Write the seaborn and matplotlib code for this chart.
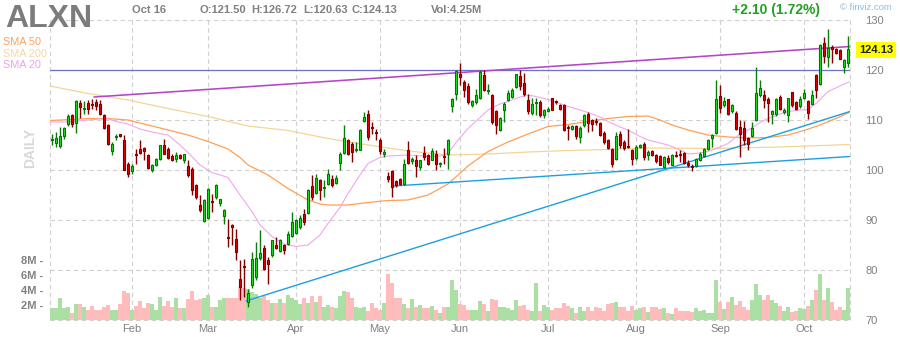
import numpy as np
import pandas as pd
import matplotlib
matplotlib.use("Agg")
import matplotlib.pyplot as plt
import seaborn as sns

# ---------------- data ----------------
ticker = "ALXN"
header_date = "Oct 16"
header_ohlc = ["O:121.50", "H:126.72", "L:120.63", "C:124.13"]
header_vol = "Vol:4.25M"
header_change = "+2.10 (1.72%)"
last_price_label = "124.13"
last_price = 124.13

opens = [106.1, 105.5, 104.9, 106.9, 109.3, 111.1, 109.5, 113.4, 112.3, 113.4,
         113.2, 113.7, 113.2, 111.0, 109.0, 103.9, 106.7, 107.2, 106.0, 101.3,
         99.9, 103.1, 104.3, 104.5, 103.0, 100.0, 101.1, 102.3, 105.1, 104.3,
         102.8, 102.3, 102.9, 102.1, 100.8, 100.3, 97.0, 93.0, 89.9, 90.5,
         93.8, 94.7, 93.5, 90.9, 86.6, 89.0, 86.3, 78.3, 80.8, 73.7,
         77.0, 78.7, 82.5, 84.5, 82.0, 83.0, 85.1, 83.9, 84.9, 85.3,
         86.9, 87.5, 88.7, 91.2, 91.5, 96.8, 95.5, 98.0, 96.4, 97.3,
         98.3, 97.5, 101.5, 103.5, 106.0, 105.3, 104.0, 104.1, 109.9, 111.3,
         108.6, 107.6, 106.1, 103.2, 98.9, 99.9, 97.8, 98.2, 97.3, 103.9,
         101.9, 101.9, 100.7, 103.5, 103.1, 102.1, 103.2, 101.2, 102.9, 103.2,
         112.8, 115.3, 119.2, 117.5, 116.8, 113.1, 113.7, 114.5, 119.0, 115.9,
         114.9, 111.7, 108.1, 112.0, 114.1, 114.7, 116.7, 118.8, 117.5, 114.0,
         111.5, 113.4, 113.6, 111.0, 111.9, 114.3, 113.8, 112.9, 112.9, 108.6,
         108.3, 108.7, 106.7, 109.0, 111.2, 109.9, 109.8, 109.5, 107.5, 106.1,
         104.3, 102.3, 107.2, 105.7, 104.9, 103.9, 102.5, 104.7, 105.3, 103.0,
         103.7, 102.9, 102.7, 100.7, 102.5, 101.1, 103.1, 103.2, 103.5, 101.5,
         100.8, 100.9, 102.0, 102.9, 104.3, 106.5, 107.5, 114.8, 113.0, 114.2,
         111.8, 111.5, 108.5, 108.5, 106.5, 106.9, 110.0, 115.0, 115.0, 114.3,
         111.3, 111.3, 114.5, 111.7, 111.1, 115.5, 113.5, 112.9, 114.5, 113.7,
         113.3, 119.1, 117.3, 125.5, 122.7, 124.7, 124.2, 124.0, 120.7, 121.5]
highs = [107.3, 107.7, 108.7, 108.7, 111.3, 111.3, 114.0, 114.0, 113.9, 114.0,
         114.3, 114.3, 114.0, 111.3, 109.3, 105.7, 107.3, 107.3, 107.0, 101.7,
         101.3, 104.3, 106.0, 104.7, 103.2, 101.3, 102.5, 105.0, 106.3, 104.7,
         103.2, 103.7, 103.2, 103.3, 102.1, 100.7, 97.2, 95.0, 94.3, 96.5,
         95.3, 97.2, 94.3, 92.3, 90.3, 89.3, 88.3, 82.0, 82.3, 76.3,
         83.7, 85.7, 88.0, 85.0, 82.7, 86.0, 86.7, 86.3, 85.3, 87.9,
         91.7, 90.3, 91.0, 92.3, 96.3, 99.0, 99.3, 98.3, 98.0, 100.3,
         99.0, 99.0, 103.7, 109.0, 106.3, 105.7, 105.7, 108.3, 111.7, 112.0,
         109.7, 108.3, 106.5, 104.3, 99.7, 100.0, 98.0, 98.5, 102.3, 105.8,
         102.7, 103.0, 102.1, 104.8, 103.3, 104.5, 104.1, 101.7, 104.5, 106.3,
         114.5, 120.0, 121.5, 118.0, 117.5, 114.0, 116.3, 120.1, 120.1, 117.2,
         115.3, 112.0, 110.7, 113.7, 116.1, 116.5, 119.3, 120.0, 119.5, 115.3,
         114.5, 114.5, 114.0, 112.3, 112.7, 114.5, 114.0, 113.3, 113.3, 109.0,
         109.0, 109.0, 108.8, 111.3, 111.7, 110.3, 110.5, 109.7, 107.9, 106.3,
         104.5, 107.7, 107.9, 106.0, 108.3, 104.3, 105.0, 105.3, 105.7, 104.0,
         104.0, 103.3, 103.0, 102.9, 103.1, 103.3, 103.8, 104.0, 103.7, 102.0,
         101.3, 102.5, 103.7, 104.5, 106.3, 107.3, 118.0, 117.1, 114.7, 114.3,
         113.3, 111.8, 110.0, 109.8, 106.7, 109.7, 120.7, 118.0, 116.0, 114.7,
         112.0, 114.5, 115.0, 112.5, 114.5, 115.7, 113.8, 114.9, 116.2, 114.0,
         116.0, 119.3, 125.3, 126.7, 128.3, 125.0, 124.5, 124.3, 122.3, 126.72]
lows = [105.0, 104.7, 104.5, 106.3, 108.8, 108.7, 107.5, 110.5, 111.3, 111.3,
        112.3, 112.0, 111.0, 108.3, 105.0, 103.0, 106.0, 106.7, 100.0, 98.7,
        99.2, 101.3, 103.3, 102.0, 100.3, 99.7, 100.9, 102.0, 103.2, 102.3,
        101.9, 101.7, 102.3, 101.5, 98.7, 95.0, 94.3, 91.7, 89.7, 90.3,
        91.7, 94.3, 92.8, 89.3, 84.7, 85.0, 82.0, 74.0, 74.7, 72.7,
        76.5, 78.0, 82.0, 80.0, 77.3, 82.7, 84.3, 83.7, 83.2, 85.0,
        86.7, 87.2, 88.3, 89.0, 91.3, 94.0, 95.3, 94.0, 94.7, 97.0,
        96.7, 97.3, 100.0, 103.3, 103.0, 101.7, 103.7, 104.0, 109.7, 106.0,
        107.3, 106.0, 103.3, 102.7, 97.7, 94.7, 96.7, 97.0, 97.0, 101.3,
        101.3, 98.7, 100.0, 102.0, 101.0, 102.0, 100.0, 100.7, 101.3, 100.3,
        111.7, 114.0, 117.0, 114.7, 113.3, 112.7, 113.3, 114.3, 115.9, 115.3,
        109.3, 107.3, 107.9, 109.7, 113.9, 114.5, 116.5, 116.0, 114.8, 111.3,
        111.0, 111.0, 110.7, 110.5, 111.7, 112.0, 113.3, 112.0, 107.9, 106.0,
        108.0, 106.3, 105.5, 108.7, 107.7, 107.9, 109.0, 106.8, 105.3, 104.3,
        100.7, 102.0, 104.5, 104.1, 104.5, 101.0, 102.0, 104.5, 102.1, 102.0,
        102.9, 101.5, 101.0, 100.5, 101.3, 101.0, 102.7, 101.7, 101.3, 100.7,
        99.8, 100.7, 101.8, 102.7, 104.0, 104.7, 107.3, 111.5, 112.7, 111.1,
        111.5, 108.0, 102.7, 105.0, 104.0, 106.7, 109.8, 114.7, 112.5, 109.7,
        109.3, 110.9, 112.0, 111.3, 109.7, 112.7, 112.0, 112.5, 114.2, 110.2,
        113.0, 114.5, 117.1, 121.5, 120.7, 121.5, 123.3, 122.2, 119.5, 120.63]
closes = [106.3, 106.5, 106.8, 108.5, 110.8, 109.3, 113.8, 112.7, 112.4, 112.3,
          113.1, 112.9, 111.3, 108.5, 105.2, 105.2, 106.9, 106.8, 100.0, 99.3,
          100.8, 103.0, 103.5, 103.9, 100.5, 100.9, 102.3, 105.0, 103.3, 102.5,
          102.1, 103.1, 102.5, 103.2, 99.0, 96.1, 94.7, 92.0, 94.0, 96.2,
          93.6, 97.1, 94.2, 92.0, 86.4, 88.7, 83.7, 76.7, 80.6, 75.5,
          82.3, 82.5, 83.5, 80.3, 81.2, 85.9, 84.5, 86.1, 84.0, 87.3,
          89.7, 90.0, 90.4, 89.6, 95.9, 94.7, 98.5, 96.0, 96.6, 99.3,
          97.0, 98.5, 103.3, 106.5, 103.2, 103.7, 104.2, 108.0, 110.7, 106.7,
          108.4, 107.4, 103.9, 103.7, 98.2, 96.7, 97.0, 97.3, 101.3, 101.5,
          102.3, 100.8, 102.0, 102.7, 101.2, 103.7, 101.2, 101.4, 102.7, 106.1,
          114.3, 119.8, 118.7, 116.1, 113.7, 113.7, 115.1, 119.6, 116.0, 116.1,
          109.7, 109.1, 110.3, 113.3, 115.3, 116.1, 119.2, 116.8, 115.2, 111.9,
          113.3, 113.6, 111.0, 112.1, 112.3, 112.1, 113.6, 112.3, 108.0, 108.4,
          108.8, 106.8, 108.5, 111.0, 109.5, 109.2, 109.6, 107.0, 105.7, 104.5,
          101.2, 106.7, 105.0, 104.5, 104.7, 102.3, 104.7, 105.1, 102.7, 103.7,
          103.1, 101.8, 101.1, 102.7, 101.7, 102.9, 102.9, 103.0, 101.5, 101.0,
          100.6, 102.3, 103.3, 104.2, 106.0, 106.9, 114.2, 112.5, 113.8, 111.3,
          113.0, 108.2, 107.3, 106.0, 105.3, 108.5, 115.5, 116.5, 114.0, 113.5,
          111.8, 114.3, 112.3, 111.9, 114.3, 113.1, 112.3, 114.3, 115.5, 111.5,
          115.1, 116.0, 125.1, 122.9, 124.5, 124.2, 123.5, 122.3, 122.0, 124.13]
volumes_m = [1.55, 1.6, 2.9, 1.6, 1.7, 0.9, 2.2, 2.1, 1.8, 1.4,
             1.9, 1.3, 1.4, 1.7, 2.0, 1.4, 1.3, 2.1, 3.9, 3.6,
             1.3, 1.9, 2.5, 1.55, 2.3, 2.1, 1.3, 3.1, 1.9, 2.5,
             1.8, 3.0, 1.55, 1.55, 2.75, 3.9, 2.7, 2.75, 2.9, 3.4,
             1.8, 1.8, 2.7, 2.9, 3.0, 3.0, 3.0, 4.4, 4.3, 4.2,
             3.8, 3.5, 3.0, 3.2, 2.7, 2.3, 2.3, 2.8, 2.3, 3.3,
             3.0, 2.7, 2.2, 3.0, 2.3, 3.2, 2.4, 3.2, 1.7, 2.0,
             1.7, 1.6, 3.2, 3.9, 3.8, 2.9, 1.7, 1.6, 1.8, 1.2,
             2.3, 1.6, 1.4, 2.3, 6.1, 5.0, 2.9, 2.9, 2.2, 1.6,
             2.8, 1.7, 2.0, 1.6, 1.6, 1.9, 1.4, 1.0, 1.8, 1.8,
             5.3, 4.0, 2.1, 2.0, 1.3, 1.3, 1.3, 2.5, 2.1, 1.2,
             2.8, 2.7, 1.7, 1.8, 1.6, 1.4, 2.7, 1.9, 2.0, 1.4,
             1.2, 4.9, 1.2, 2.0, 1.7, 1.3, 1.6, 1.6, 2.3, 1.9,
             1.6, 0.9, 1.8, 1.2, 1.7, 1.2, 1.8, 1.6, 1.2, 2.1,
             2.3, 2.4, 1.8, 1.7, 1.2, 1.9, 1.4, 1.6, 1.8, 1.1,
             1.8, 1.8, 1.5, 1.6, 1.0, 0.8, 1.6, 1.2, 1.2, 1.2,
             1.1, 1.6, 1.2, 1.3, 1.0, 1.0, 5.3, 2.4, 1.5, 2.4,
             3.1, 2.0, 2.5, 1.8, 1.3, 2.7, 4.8, 3.3, 2.7, 3.4,
             2.7, 2.3, 1.9, 1.2, 1.8, 1.1, 1.2, 1.6, 1.5, 1.9,
             2.7, 4.0, 6.2, 2.7, 4.3, 2.4, 1.3, 1.8, 1.3, 4.25]

month_labels = ["Feb", "Mar", "Apr", "May", "Jun", "Jul", "Aug", "Sep", "Oct"]
month_start_idx = [20, 39, 61, 82, 102, 124, 146, 167, 188]
price_ticks = [70, 80, 90, 100, 110, 120, 130]
volume_ticks_m = [2, 4, 6, 8]

sma20_idx = [-0.5, 4, 9, 12, 14, 17, 19, 22, 25, 29, 32, 34, 37, 40, 42, 44, 47, 50,
             52, 55, 58, 61, 64, 67, 69, 72, 74, 77, 79, 82, 84, 89, 94, 97, 99,
             101, 104, 107, 109, 112, 114, 117, 119, 121, 124, 127, 129, 132, 134,
             137, 139, 142, 144, 147, 149, 152, 154, 157, 159, 162, 164, 167, 169,
             172, 174, 177, 179, 182, 184, 187, 189, 191, 194, 197, 199.5]
sma20_val = [109.6, 109.6, 110.0, 110.2, 110.2, 109.5, 109.2, 108.2, 107.6, 107.0, 105.0,
             103.5, 101.0, 99.5, 99.0, 98.5, 95.0, 91.7, 89.0, 86.7, 85.2, 84.7, 85.0,
             87.0, 89.3, 92.5, 95.3, 99.0, 101.3, 102.5, 102.8, 103.0, 102.7, 102.8,
             103.3, 105.5, 108.3, 110.5, 112.0, 113.2, 113.7, 114.6, 115.0, 114.7,
             114.1, 113.3, 112.7, 112.0, 111.5, 110.6, 109.7, 108.6, 108.0, 106.7,
             106.0, 105.4, 105.0, 104.0, 103.2, 103.4, 103.7, 104.6, 105.3, 107.2,
             108.0, 109.5, 110.3, 111.2, 111.7, 112.0, 112.1, 113.3, 115.7, 116.8, 117.7]
sma50_idx = [-0.5, 5, 9, 14, 19, 24, 29, 34, 39, 44, 47, 49, 54, 59, 64, 67, 69, 74,
             79, 84, 89, 94, 99, 104, 109, 114, 119, 124, 129, 134, 139, 144, 149,
             152, 155, 159, 164, 169, 174, 179, 184, 188, 192, 196, 199.5]
sma50_val = [109.9, 110.1, 110.3, 110.3, 110.0, 109.0, 108.0, 107.0, 105.7, 104.2,
             102.5, 101.0, 99.0, 96.3, 94.0, 93.2, 93.0, 93.0, 93.5, 93.9, 94.0,
             95.0, 97.2, 100.8, 103.7, 105.6, 107.2, 108.7, 109.1, 109.7, 110.3,
             110.7, 110.8, 110.0, 109.0, 108.0, 107.0, 106.6, 106.4, 106.5, 107.0,
             107.9, 109.0, 110.3, 111.6]
sma200_idx = [-0.5, 9, 19, 29, 39, 49, 59, 69, 79, 89, 99, 109, 119, 129, 139, 149,
              165, 182, 199.5]
sma200_val = [116.8, 115.3, 114.0, 112.3, 110.7, 108.8, 107.9, 106.3, 105.0, 103.8,
              103.0, 103.2, 103.6, 103.9, 104.1, 104.4, 104.3, 104.6, 105.1]

resistance_level = 120.0
trend_magenta = ([10.5, 199.5], [114.6, 124.7])
trend_blue_steep = ([48.5, 199.5], [73.8, 111.7])
trend_blue_flat = ([85.5, 199.5], [96.8, 102.7])

# ---------------- styling ----------------
sns.set_theme(style="white")
plt.rcParams["font.family"] = ["Liberation Sans", "DejaVu Sans"]

W, H = 900, 340
fig = plt.figure(figsize=(W / 100, H / 100), dpi=100)
fig.patch.set_facecolor("white")
rect = [50 / W, 20 / H, 800 / W, 300 / H]

n = len(closes)
idx = np.arange(n)
o = np.array(opens); h = np.array(highs); l = np.array(lows); c = np.array(closes)
up = c >= o

grid_col = "#d0d0d0"
label_col = "#808080"
dash = (0, (4, 3))

# background axes: grid + price ticks
axg = fig.add_axes(rect)
axg.set_xlim(-0.5, n - 0.5)
axg.set_ylim(70, 130)
for s in axg.spines.values():
    s.set_visible(False)
axg.set_yticks(price_ticks)
axg.set_yticklabels([str(t) for t in price_ticks])
axg.yaxis.tick_right()
axg.tick_params(axis="y", length=0, pad=11, labelsize=8, labelcolor=label_col)
axg.set_xticks(month_start_idx)
axg.set_xticklabels(month_labels)
axg.tick_params(axis="x", length=0, pad=3, labelsize=8, labelcolor=label_col)
for t in price_ticks:
    axg.axhline(t, color=grid_col, lw=0.8, ls=dash, clip_on=False, zorder=0)
for m in month_start_idx + [-0.5, n - 0.5]:
    axg.axvline(m, color=grid_col, lw=0.8, ls=dash, clip_on=False, zorder=0)

# volume axes
axv = fig.add_axes(rect, sharex=axg)
axv.patch.set_visible(False)
axv.set_ylim(0, 40)
for s in axv.spines.values():
    s.set_visible(False)
vol_df = pd.DataFrame({"day": idx, "vol": volumes_m, "up": up})
axv.bar(vol_df["day"], vol_df["vol"], width=1.0,
        color=np.where(vol_df["up"], "#acdfa4", "#ffbcbc"), linewidth=0)
axv.set_yticks(volume_ticks_m)
axv.set_yticklabels([f"{v}M -" for v in volume_ticks_m])
axv.tick_params(axis="y", length=0, pad=5, labelsize=8, labelcolor=label_col)
for lab in axv.get_yticklabels():
    lab.set_fontweight("bold")
axv.tick_params(axis="x", bottom=False, labelbottom=False)

# price axes (candles, averages, trend lines)
ax = fig.add_axes(rect, sharex=axg, sharey=axg)
ax.patch.set_visible(False)
for s in ax.spines.values():
    s.set_visible(False)
ax.tick_params(left=False, right=False, bottom=False, labelleft=False,
               labelright=False, labelbottom=False)
ax.set_ylim(70, 130)

sns.lineplot(x=sma200_idx, y=sma200_val, ax=ax, color="#f3d596", lw=0.9, zorder=2)
sns.lineplot(x=sma50_idx, y=sma50_val, ax=ax, color="#ffa055", lw=0.9, zorder=2)
sns.lineplot(x=sma20_idx, y=sma20_val, ax=ax, color="#f2a6ee", lw=0.8, zorder=2)

ax.axhline(resistance_level, color="#6f6fd0", lw=0.9, zorder=3)
ax.plot(*trend_magenta, color="#b546c8", lw=1.15, zorder=3)
ax.plot(*trend_blue_steep, color="#1e9ee0", lw=1.0, zorder=3)
ax.plot(*trend_blue_flat, color="#1e9ee0", lw=1.0, zorder=3)

wick_cols = np.where(up, "#0a7a0a", "#800000")
ax.vlines(idx, l, h, colors=wick_cols, lw=1.0, zorder=4)
body_h = np.maximum(np.abs(c - o), 0.12)
ax.bar(idx, body_h, bottom=np.minimum(o, c), width=0.62,
       color=np.where(up, "#1fe21f", "#e00000"),
       edgecolor=np.where(up, "#0b6e0b", "#7a0000"), linewidth=0.8, zorder=5)

# ---------------- texts ----------------
def px(x, y):
    return x / W, 1 - y / H

fig.text(*px(5, 19), ticker, fontsize=23, fontweight="bold", color="#7c7c7c",
         va="center", ha="left")
fig.text(*px(3, 42), "SMA 50", fontsize=7.8, color="#ffa060", va="center")
fig.text(*px(3, 54), "SMA 200", fontsize=7.8, color="#f5d8a0", va="center")
fig.text(*px(3, 65), "SMA 20", fontsize=7.8, color="#f0a0ec", va="center")
fig.text(*px(30, 148), "DAILY", fontsize=10, fontweight="bold", color="#d8d8d8",
         rotation=90, ha="center", va="center")

fig.text(*px(132, 10), header_date, fontsize=8, fontweight="bold", color=label_col, va="center")
for xpos, s in zip([199, 251, 303, 352], header_ohlc):
    fig.text(*px(xpos, 10), s, fontsize=8, fontweight="bold", color=label_col, va="center")
fig.text(*px(431, 10), header_vol, fontsize=8, fontweight="bold", color=label_col, va="center")
fig.text(*px(732, 10), header_change, fontsize=10, fontweight="bold", color="#23a023", va="center")
fig.text(*px(840, 8), "\u00a9 finviz.com", fontsize=6.8, color="#86c0ec", va="center")
fig.text(*px(876, 50), last_price_label, fontsize=8, fontweight="bold", color="#222222",
         ha="center", va="center",
         bbox=dict(facecolor="#ffff00", edgecolor="none", boxstyle="square,pad=0.25"))

fig.savefig("out.png", dpi=100, facecolor="white")
